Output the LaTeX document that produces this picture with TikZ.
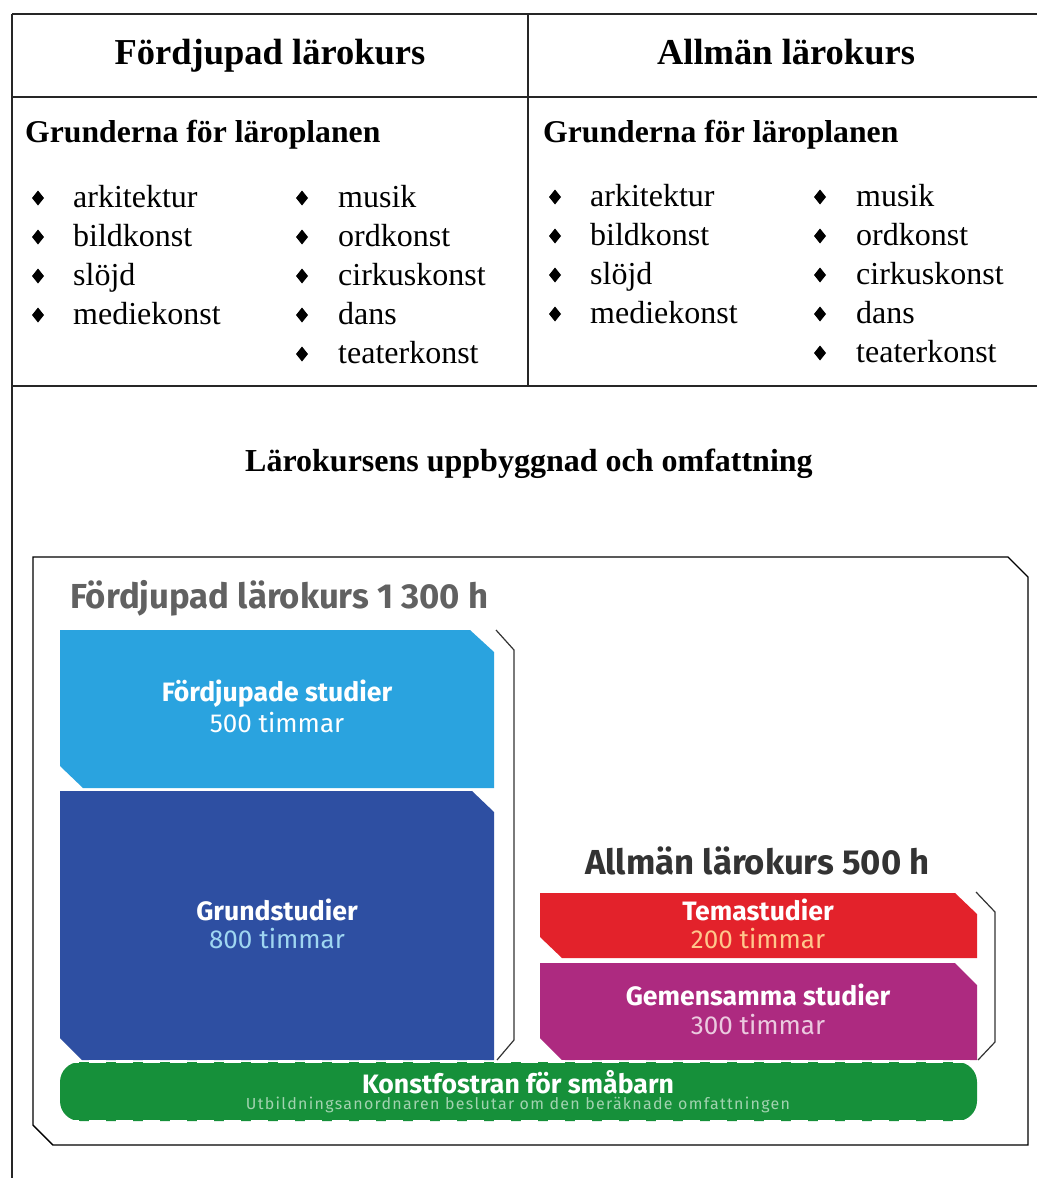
\documentclass[tikz,border=0pt]{standalone}
\usepackage{fontspec}
\setmainfont{Liberation Serif}
\newfontfamily\dinfont{Fira Sans}
\newfontfamily\dinwide[LetterSpace=8]{Fira Sans}
\definecolor{lblue}{HTML}{2AA3DF}
\definecolor{dblue}{HTML}{2E4FA2}
\definecolor{tred}{HTML}{E3222B}
\definecolor{mag}{HTML}{AD2A80}
\definecolor{kgreen}{HTML}{16903A}
\newcommand\bul[2]{\fill ({#1-6},{#2}) -- ({#1},{#2-7.5}) -- ({#1+6},{#2}) -- ({#1},{#2+7.5}) -- cycle;}
\begin{document}
\begin{tikzpicture}[x=1pt,y=-1pt,
  tab/.style={line width=1.2pt, black!85},
  hdr/.style={anchor=base, inner sep=0pt, font=\fontsize{36.5}{40}\selectfont\bfseries},
  sub/.style={anchor=base west, inner sep=0pt, font=\fontsize{31.7}{36}\selectfont\bfseries},
  itm/.style={anchor=base west, inner sep=0pt, font=\fontsize{32}{36}\selectfont},
  frm/.style={line width=1.4pt, black},
  brk/.style={line width=1.2pt, black!80},
  ttl/.style={anchor=west, inner sep=0pt, font=\dinfont\fontsize{34.7}{38}\selectfont\bfseries},
  bt/.style={inner sep=0pt, text=white, font=\dinfont\fontsize{26.6}{28}\selectfont\bfseries},
  bh/.style={inner sep=0pt, font=\dinfont\fontsize{26}{28}\selectfont},
]
\useasboundingbox (0,0) rectangle (1037,1178);
\fill[white] (0,0) rectangle (1037,1178);
% table
\draw[tab] (12,14) -- (1037,14);
\draw[tab] (12,97) -- (1037,97);
\draw[tab] (12,386) -- (1037,386);
\draw[tab] (12,14) -- (12,1178);
\draw[tab] (528,14) -- (528,386);
\node[hdr] (h1) at (270,64) {Fördjupad lärokurs};
\node[hdr] (h2) at (786,64) {Allmän lärokurs};
\node[sub] (g1) at (25,142) {Grunderna för läroplanen};
\node[sub] (g2) at (543,142) {Grunderna för läroplanen};
% left cell lists
\foreach \t [count=\i] in {arkitektur,bildkonst,slöjd,mediekonst}{
  \node[itm] (la\i) at (73,{168+39*\i}) {\t};
  \bul{38}{159+39*\i}
}
\foreach \t [count=\i] in {musik,ordkonst,cirkuskonst,dans,teaterkonst}{
  \node[itm] (lb\i) at (338,{168+39*\i}) {\t};
  \bul{302}{159+39*\i}
}
\foreach \t [count=\i] in {arkitektur,bildkonst,slöjd,mediekonst}{
  \node[itm] (ra\i) at (590,{167+39*\i}) {\t};
  \bul{555}{158+39*\i}
}
\foreach \t [count=\i] in {musik,ordkonst,cirkuskonst,dans,teaterkonst}{
  \node[itm] (rb\i) at (856,{167+39*\i}) {\t};
  \bul{820}{158+39*\i}
}
\node[anchor=base, inner sep=0pt, font=\fontsize{32}{36}\selectfont\bfseries] (lt) at (529,471) {Lärokursens uppbyggnad och omfattning};
% diagram frame
\draw[frm] (33,557) -- (1008,557) -- (1028,577) -- (1028,1145) -- (53,1145) -- (33,1125) -- cycle;
\node[ttl, text=black!62] (t1) at (70,598) {Fördjupad lärokurs 1 300 h};
\node[ttl, text=black!80] (t2) at (585,861) {Allmän lärokurs 500 h};
% blocks
\fill[lblue] (60,630) -- (470,630) -- (494,652) -- (494,788) -- (83,788) -- (60,766) -- cycle;
\fill[dblue] (60,791) -- (472,791) -- (494,812) -- (494,1060) -- (82,1060) -- (60,1038) -- cycle;
\fill[tred] (540,893) -- (955,893) -- (977,914) -- (977,958) -- (562,958) -- (540,937) -- cycle;
\fill[mag] (540,963) -- (955,963) -- (977,985) -- (977,1060) -- (562,1060) -- (540,1038) -- cycle;
\fill[kgreen, rounded corners=20pt] (60,1062) rectangle (977,1121);
\draw[white, line width=3pt, dash pattern=on 17pt off 10pt] (62,1061) -- (977,1061);
\draw[white, line width=3pt, dash pattern=on 17pt off 10pt] (62,1121.5) -- (977,1121.5);
% brackets
\draw[brk] (496,630) -- (514,650) -- (514,1040) -- (497,1060);
\draw[brk] (976,892) -- (995,912) -- (995,1042) -- (978,1060);
% block texts
\node[bt] (fs) at (277,694) {Fördjupade studier};
\node[bh, text=white] (fs2) at (277,723) {500 timmar};
\node[bt] (gs) at (277,910) {Grundstudier};
\node[bh, text=lblue!45!white] (gs2) at (277,939) {800 timmar};
\node[bt] (ts) at (758,910) {Temastudier};
\node[bh, text=orange!45!white] (ts2) at (758,939) {200 timmar};
\node[bt] (ms) at (758,995) {Gemensamma studier};
\node[bh, text=mag!25!white] (ms2) at (758,1025) {300 timmar};
\node[bt] (ks) at (518,1082) {Konstfostran för småbarn};
\node[inner sep=0pt, text=kgreen!40!white, font=\dinwide\fontsize{16}{18}\selectfont] (ks2) at (518,1105) {Utbildningsanordnaren beslutar om den beräknade omfattningen};
\end{tikzpicture}
\end{document}
